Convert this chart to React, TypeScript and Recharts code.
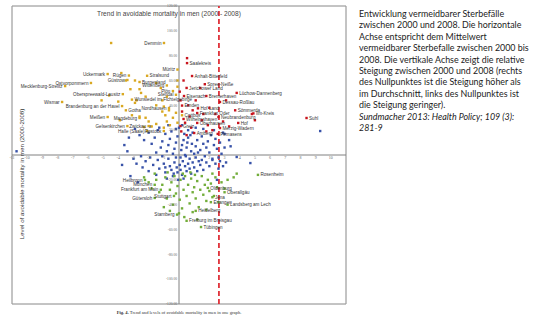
import React from 'react';
import {
  ScatterChart,
  Scatter,
  XAxis,
  YAxis,
  CartesianGrid,
  ReferenceLine,
  ReferenceArea,
  ReferenceDot
} from 'recharts';

// axis ticks
const xGridTicks = [-11, -10, -9, -8, -7, -6, -5, -4, -3, -2, -1, 0, 1, 2, 3, 4, 5, 6, 7, 8, 9, 10, 11];
const yGridTicks = [-120, -110, -100, -90, -80, -70, -60, -50, -40, -30, -20, -10, 0, 10, 20, 30, 40, 50, 60, 70, 80, 90, 100, 110, 120];
const xTickLabels = [-11, -10, -9, -8, -7, -6, -5, -4, -3, -2, -1, 1, 2, 3, 4, 5, 6, 7, 8, 9, 10];
const yTickLabels = [120, 100, 80, 60, 40, 20, -20, -40, -60, -80, -100, -120];
const meanTrend = 2.63;

// blue: middle level
const bluePts: [number, number][] = [
  [-2.6, 16], [-2.3, 12], [-2.0, 18], [-1.8, 9], [-1.6, 14], [-1.4, 20], [-1.2, 6], [-1.1, 11], [-0.9, 17],
  [-0.8, 3], [-0.7, 8], [-0.6, 13], [-0.5, 19], [-0.4, 1], [-0.3, 5], [-0.2, 10], [-0.1, 15], [0.0, 22],
  [0.1, -2], [0.15, 4], [0.2, 8], [0.3, 12], [0.35, 17], [0.4, 0], [0.5, 6], [0.55, 10], [0.6, 14],
  [0.7, -3], [0.8, 3], [0.85, 9], [0.9, 18], [1.0, 1], [1.1, 7], [1.2, 12], [1.3, -5], [1.4, 4], [1.5, 15],
  [1.6, 9], [1.7, -1], [1.8, 6], [1.9, 11], [2.0, 2], [2.1, 16], [2.2, -4], [2.3, 8], [2.4, 13], [2.5, 5],
  [2.6, -2], [2.7, 10], [2.8, 1], [3.0, 6], [3.1, -6],
  [-3.0, -3], [-2.8, -7], [-2.5, -1], [-2.4, -10], [-2.2, -5], [-2.0, -13], [-1.9, -2], [-1.7, -8],
  [-1.5, -16], [-1.4, -4], [-1.3, -11], [-1.1, -1], [-1.0, -7], [-0.9, -14], [-0.8, -19], [-0.7, -3],
  [-0.6, -9], [-0.5, -12], [-0.4, -17], [-0.3, -6], [-0.2, -2], [-0.15, -10], [-0.1, -14], [-0.05, -20],
  [0.05, -8], [0.1, -12], [0.2, -16], [0.25, -5], [0.3, -19], [0.4, -9], [0.5, -13], [0.6, -7], [0.7, -11],
  [0.8, -15], [0.9, -6], [1.0, -10], [1.1, -2], [1.2, -13], [1.4, -8], [1.5, -4], [1.6, -12], [1.8, -6],
  [2.0, -9], [2.2, -3], [2.4, -7], [2.6, -11], [2.7, -5],
  [-1.9, 23], [-1.3, 22], [-0.7, 24], [-0.2, 21], [0.2, 24], [0.6, 20], [1.1, 22], [1.6, 21], [2.3, 20],
  [2.9, 18], [-2.9, 21], [-3.3, 14], [-3.6, 8], [-3.4, 3], [3.3, 12], [3.0, 17], [-1.5, 2], [-0.9, -10],
  [0.45, -1], [1.25, 2], [-0.35, -15], [0.75, 16], [2.9, -9],
  [-10.7, 3], [3.4, 7], [3.8, -1.6], [4.7, -6.5], [9.3, 19.3], [-3.75, -8], [-3.2, -17], [-2.7, -22], [2.5, -20]
];

// yellow: high level, weaker trend
const yellowPts: [number, number][] = [
  [-4.47, 90.2], [-3.8, 66], [-3.5, 60], [-2.9, 60], [-1.5, 58], [-1.2, 54], [-0.1, 60], [-0.1, 55],
  [-2.6, 53], [-2.5, 50], [-3.2, 53], [-4.6, 48], [-2.2, 47], [-2.8, 44], [-1.1, 44], [-0.8, 47],
  [-5.1, 44], [-4.0, 43], [-2.9, 42], [-1.5, 40], [-1.0, 39], [-0.66, 36], [-1.1, 35], [-0.9, 32],
  [-0.2, 34], [-3.1, 32], [-2.6, 31], [-2.2, 30], [-2.0, 27], [-1.5, 25], [-0.8, 27], [-0.4, 30],
  [-0.1, 26], [-1.0, 22], [-1.8, 23], [-2.3, 22.5], [-0.6, 24], [-3.9, 28]
];
const yellowNamed: [string, number, number][] = [
  ['Demmin', -0.99, 90.2], ['Müritz', -0.1, 68.8], ['Uckermark', -4.7, 65.2], ['Rügen', -3.3, 64],
  ['Stralsund', -2.1, 63.8], ['Güstrow', -3.4, 60.4], ['Ostvorpommern', -5.8, 58],
  ['Mecklenburg-Strelitz', -7.5, 55.5], ['Burgenland', -2.6, 58.8], ['Wittenberg', -0.8, 56],
  ['Plön', -0.4, 51.5], ['Stendal', -0.2, 48.5], ['Wunsiedel im Fichtelgebirge', -3.1, 44.6],
  ['Oberspreewald-Lausitz', -3.7, 49], ['Wismar', -7.7, 42.7], ['Brandenburg an der Havel', -3.75, 39.4],
  ['Gotha', -3.5, 36], ['Nordhausen', -0.66, 37.8], ['Meißen', -4.7, 30.6], ['Magdeburg', -2.6, 29.8],
  ['Gelsenkirchen', -3.4, 23.3], ['Zwickau', -2.0, 23.3], ['Halle (Saale)', -2.1, 19.3],
  ['Rostock', -1.0, 19.3], ['Cottbus', 0.2, 32]
];

// red: high level, stronger trend
const redPts: [number, number][] = [
  [0.53, 78], [1.4, 54], [0.1, 44], [0.6, 40], [0.9, 36], [0.2, 35], [1.6, 33], [2.0, 38], [0.4, 26],
  [0.8, 22], [1.5, 28], [1.9, 24], [2.2, 20], [2.9, 27], [3.3, 23], [2.4, 33], [0.15, 19], [0.7, 31],
  [1.1, 44], [0.05, 51], [4.8, 33], [5.0, 28], [3.1, 44], [0.3, 60], [1.8, 19], [0.5, 16]
];
const redNamed: [string, number, number][] = [
  ['Saalekreis', 0.53, 74], ['Anhalt-Bitterfeld', 0.86, 63.6], ['Spree-Neiße', 1.7, 57],
  ['Jerichower Land', 0.5, 54], ['Lüchow-Dannenberg', 3.8, 50], ['Eisenach', 0.33, 47.5],
  ['Bremerhaven', 1.8, 47.5], ['Dessau-Roßlau', 2.7, 42.7], ['Emden', 0.2, 39.8], ['Hof Land', 1.25, 37.6],
  ['Frankfurt Oder', 1.2, 33.8], ['Sömmerda', 3.7, 36], ['Neubrandenburg', 2.6, 30.6], ['Ilm-Kreis', 4.9, 33.5],
  ['Hof', 3.9, 25.8], ['Suhl', 8.4, 29.8], ['Greiz', 0.1, 23.3], ['Wilhelmshaven', 0.3, 29],
  ['Oberhausen', 1.2, 25.8], ['Amberg', 1.0, 17.7], ['Pirmasens', 2.55, 17], ['Merzig-Wadern', 2.7, 21.7]
];

// green: low level
const greenPts: [number, number][] = [
  [-2.3, -18], [-2.0, -22], [-1.8, -27], [-1.5, -20], [-1.3, -30], [-1.1, -24], [-0.9, -18], [-0.8, -35],
  [-0.6, -28], [-0.5, -22], [-0.4, -40], [-0.3, -17], [-0.2, -31], [-0.1, -25], [0.05, -36], [0.1, -20],
  [0.2, -43], [0.3, -28], [0.4, -17], [0.5, -33], [0.6, -24], [0.7, -39], [0.8, -19], [0.9, -30],
  [1.0, -26], [1.1, -35], [1.2, -21], [1.3, -42], [1.4, -28], [1.5, -17], [1.6, -32], [1.7, -24],
  [1.8, -37], [1.9, -20], [2.0, -29], [2.1, -23], [2.3, -33], [2.4, -18], [2.5, -26], [2.6, -38],
  [2.8, -22], [3.0, -27], [3.2, -20], [3.6, -18], [3.8, -15], [-1.0, -42], [0.0, -47], [0.35, -50],
  [0.9, -46], [1.8, -44], [1.2, -52], [-0.6, -45], [0.75, -14], [-1.6, -15], [2.2, -15], [1.05, -16],
  [0.25, -15], [-0.75, -14]
];
const greenNamed: [string, number, number][] = [
  ['Heilbronn', -2.24, -20.1], ['München', -1.6, -24], ['Frankfurt am Main', -1.2, -28],
  ['Gütersloh', -1.6, -34.6], ['Stuttgart', -0.33, -33], ['Starnberg', -0.13, -48],
  ['Oldenburg', 1.9, -26.5], ['Oberallgäu', 3.0, -30], ['Jena', 2.2, -34], ['Erlangen', 2.1, -38],
  ['Landsberg am Lech', 3.2, -40], ['Heidelberg', 1.1, -45], ['Freiburg im Breisgau', 0.5, -53],
  ['Tübingen', 1.45, -58], ['Rosenheim', 5.2, -16]
];

const textLines = [
  'Entwicklung vermeidbarer Sterbefälle',
  'zwischen 2000 und 2008. Die horizontale',
  'Achse entspricht dem Mittelwert',
  'vermeidbarer Sterbefalle zwischen 2000 bis',
  '2008. Die vertikale Achse zeigt die relative',
  'Steigung zwischen 2000 und 2008 (rechts',
  'des Nullpunktes ist die Steigung höher als',
  'im Durchschnitt, links des Nullpunktes ist',
  'die Steigung geringer).'
];
const sourceLines = ['Sundmacher 2013:  Health Policy; 109 (3):', '281-9'];

// labels that sit on the other side of their dot
const flipLabel = new Set(['Stralsund', 'Burgenland', 'Wunsiedel im Fichtelgebirge', 'Gotha']);

const toPts = (arr: [number, number][]) => arr.map(([x, y]) => ({ x, y }));
const toNamed = (arr: [string, number, number][]) => arr.map(([name, x, y]) => ({ name, x, y }));

const blueData = toPts(bluePts);
const yellowData = [...toPts(yellowPts), ...toNamed(yellowNamed)];
const redData = [...toPts(redPts), ...toNamed(redNamed)];
const greenData = [...toPts(greenPts), ...toNamed(greenNamed)];
const labelData = [...toNamed(yellowNamed), ...toNamed(redNamed), ...toNamed(greenNamed)];

const dot = (color: string) => (props: any) => {
  const { cx, cy } = props;
  if (cx == null || cy == null) return <g />;
  return <rect x={cx - 1.2} y={cy - 1.2} width={2.4} height={2.4} fill={color} />;
};

const nameLabel = (props: any) => {
  const { cx, cy, payload } = props;
  if (cx == null || !payload?.name) return <g />;
  let left = payload.x < 0;
  if (flipLabel.has(payload.name)) left = !left;
  return (
    <text
      x={left ? cx - 2.5 : cx + 2.5}
      y={cy}
      dy="0.35em"
      textAnchor={left ? 'end' : 'start'}
      fontSize={4.6}
      fontFamily="Liberation Sans, Arial, sans-serif"
      fill="#333"
    >
      {payload.name}
    </text>
  );
};

const fmt2 = (v: number) => v.toFixed(2);

export default function App() {
  return (
    <div style={{ position: 'fixed', left: 0, top: 0, width: 535, height: 321, background: '#fff', overflow: 'hidden' }}>
      <ScatterChart width={350} height={321} margin={{ top: 6, right: 4, bottom: 17, left: 12 }}>
        <CartesianGrid stroke="#d2d2d2" strokeWidth={0.8} />
        <XAxis
          type="number"
          dataKey="x"
          domain={[-11, 11]}
          ticks={xGridTicks}
          allowDataOverflow
          tick={false}
          tickLine={false}
          axisLine={false}
          height={0}
        />
        <YAxis
          type="number"
          dataKey="y"
          domain={[-120, 120]}
          ticks={yGridTicks}
          allowDataOverflow
          tick={false}
          tickLine={false}
          axisLine={false}
          width={0}
        />
        <ReferenceArea x1={-11} x2={11} y1={-120} y2={120} fill="none" fillOpacity={0} stroke="#9a9a9a" strokeWidth={1} />
        <ReferenceLine x={0} stroke="#808080" strokeWidth={1} />
        <ReferenceLine y={0} stroke="#808080" strokeWidth={1} />
        {xTickLabels.map(v => (
          <ReferenceDot
            key={`xt${v}`}
            x={v}
            y={0}
            r={0}
            fill="none"
            stroke="none"
            label={{ value: String(v), position: 'bottom', offset: 1.5, fontSize: 4, fill: '#666' }}
          />
        ))}
        {yTickLabels.map(v => (
          <ReferenceDot
            key={`yt${v}`}
            x={0}
            y={v}
            r={0}
            fill="none"
            stroke="none"
            label={{ value: fmt2(v), position: 'left', offset: 2, fontSize: 3.6, fill: '#666' }}
          />
        ))}
        <ReferenceLine x={meanTrend} stroke="#e0323a" strokeWidth={1.8} strokeDasharray="5 3" />
        <Scatter data={blueData} fill="#3852a8" shape={dot('#3852a8')} isAnimationActive={false} />
        <Scatter data={yellowData} fill="#d9a821" shape={dot('#d9a821')} isAnimationActive={false} />
        <Scatter data={redData} fill="#c8141e" shape={dot('#c8141e')} isAnimationActive={false} />
        <Scatter data={greenData} fill="#72ad3a" shape={dot('#72ad3a')} isAnimationActive={false} />
        <Scatter data={labelData} fill="none" shape={nameLabel} isAnimationActive={false} />
      </ScatterChart>

      <div
        style={{
          position: 'absolute', left: 0, top: 10, width: 338, textAlign: 'center',
          fontFamily: 'Liberation Sans, Arial, sans-serif', fontSize: 6.6, color: '#444', whiteSpace: 'nowrap'
        }}
      >
        Trend in avoidable mortality in men (2000 - 2008)
      </div>

      <div
        style={{
          position: 'absolute', left: 22 - 100, top: 174 - 5, width: 200, height: 10, lineHeight: '10px',
          textAlign: 'center', transform: 'rotate(-90deg)', fontFamily: 'Liberation Sans, Arial, sans-serif',
          fontSize: 6.2, color: '#333', whiteSpace: 'nowrap'
        }}
      >
        Level of avoidable mortality in men (2000-2008)
      </div>

      <div
        style={{
          position: 'absolute', left: 0, top: 310, width: 358, textAlign: 'center',
          fontFamily: 'Liberation Serif, serif', fontSize: 4.6, color: '#333', whiteSpace: 'nowrap'
        }}
      >
        <b>Fig. 4.</b> Trend and levels of avoidable mortality in men in one graph.
      </div>

      <div
        style={{
          position: 'absolute', left: 359, top: 8, fontFamily: 'Lato, "Open Sans", sans-serif',
          fontSize: 8.9, lineHeight: '11.4px', color: '#222', whiteSpace: 'nowrap'
        }}
      >
        {textLines.map(l => (
          <div key={l}>{l}</div>
        ))}
        {sourceLines.map(l => (
          <div key={l} style={{ fontStyle: 'italic' }}>{l}</div>
        ))}
      </div>
    </div>
  );
}
